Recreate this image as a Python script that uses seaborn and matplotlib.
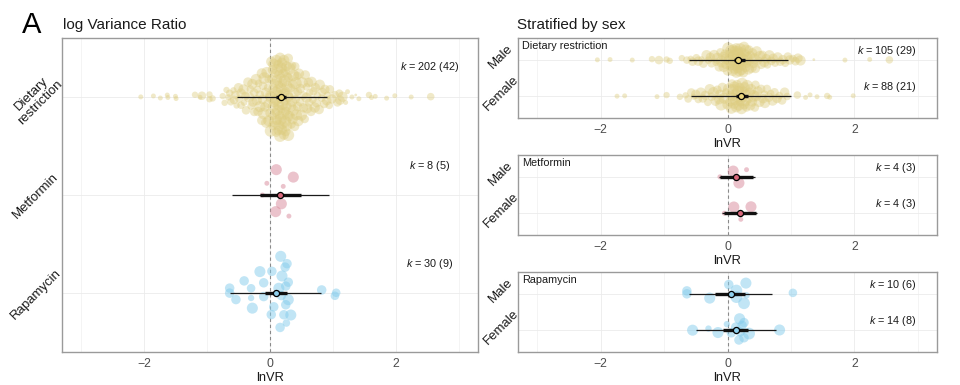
import numpy as np
import pandas as pd
import matplotlib
matplotlib.use("Agg")
import matplotlib.pyplot as plt
import matplotlib.transforms as mtransforms
import seaborn as sns

# ------------------------------------------------------------------ data
treatments = ["Dietary\nrestriction", "Metformin", "Rapamycin"]
panel_names = ["Dietary restriction", "Metformin", "Rapamycin"]
sexes = ["Male", "Female"]

dr_male_lnvr = [
    -2.05, -1.85, -1.50, -1.19, -1.08, -0.96, -0.91, -0.72, 1.36, 1.85, 2.24, 2.55,
    -0.64, -0.58, -0.55, -0.49, -0.46, -0.41, -0.38, -0.33, -0.30, -0.27,
    -0.25, -0.21, -0.18, -0.16, -0.13, -0.11, -0.09, -0.07, -0.06, -0.03,
    -0.02, 0.00, 0.01, 0.02, 0.04, 0.05, 0.05, 0.07, 0.08, 0.09,
    0.10, 0.10, 0.11, 0.12, 0.13, 0.14, 0.14, 0.15, 0.16, 0.17,
    0.18, 0.18, 0.19, 0.20, 0.21, 0.22, 0.22, 0.23, 0.24, 0.25,
    0.26, 0.27, 0.28, 0.29, 0.30, 0.31, 0.33, 0.34, 0.36, 0.37,
    0.39, 0.41, 0.42, 0.44, 0.46, 0.48, 0.51, 0.53, 0.55, 0.58,
    0.61, 0.63, 0.66, 0.69, 0.72, 0.75, 0.79, 0.83, 0.87, 0.91,
    0.95, 0.98, 1.03, 1.07, 1.11, 1.15, -0.04, 0.03, 0.12, 0.16,
    0.20, 0.28, 0.35]
dr_male_prec = [
    2, 2, 2, 3, 5, 3, 3, 3, 1, 2, 2, 4,
    4, 3, 5, 4, 6, 3, 5, 7, 4, 6, 5, 7, 4, 8, 6, 5, 9, 6, 7, 5,
    8, 6, 9, 7, 5, 8, 6, 7, 9, 5, 6, 8, 7, 9, 6, 8, 5, 7, 9, 6,
    8, 5, 7, 9, 6, 8, 7, 5, 9, 6, 7, 8, 5, 9, 6, 7, 8, 5, 6, 9,
    7, 5, 8, 6, 7, 5, 8, 6, 5, 7, 6, 4, 7, 5, 6, 4, 7, 5, 6, 4,
    5, 6, 4, 5, 6, 7, 5, 6, 8, 7, 6, 8, 5]

dr_female_lnvr = [
    -1.74, -1.62, -1.11, -0.96, -0.75, 1.10, 1.23, 1.30, 1.41, 1.57, 1.61, 1.98,
    -0.66, -0.62, -0.57, -0.53, -0.50, -0.46, -0.42, -0.39, -0.35, -0.31,
    -0.28, -0.25, -0.22, -0.19, -0.16, -0.13, -0.10, -0.08, -0.05, -0.02,
    0.00, 0.02, 0.04, 0.06, 0.08, 0.09, 0.11, 0.13, 0.14, 0.16,
    0.17, 0.19, 0.20, 0.22, 0.23, 0.25, 0.26, 0.28, 0.29, 0.31,
    0.33, 0.35, 0.37, 0.39, 0.41, 0.43, 0.45, 0.48, 0.50, 0.53,
    0.56, 0.59, 0.62, 0.65, 0.68, 0.71, 0.74, 0.78, 0.82, 0.86,
    0.90, 0.94, 0.10, 0.15, 0.21, 0.27, 0.18, 0.24, 0.12, 0.30,
    0.05, 0.36, 0.44, -0.12, 0.58, 0.07]
dr_female_prec = [
    2, 2, 2, 3, 3, 4, 2, 2, 2, 3, 2, 2,
    3, 4, 5, 3, 6, 4, 7, 5, 6, 4, 7, 5, 8, 6, 5, 7, 9, 6, 8, 5,
    7, 9, 6, 8, 5, 9, 7, 6, 8, 5, 9, 7, 6, 8, 9, 5, 7, 8, 6, 9,
    5, 7, 8, 6, 9, 5, 7, 6, 8, 5, 6, 7, 5, 6, 4, 7, 5, 6, 4, 5,
    6, 4, 8, 6, 9, 7, 8, 6, 7, 5, 6, 7, 5, 6, 4, 5]

dr_other_lnvr = [-1.63, -1.49, -0.69, 1.20, 1.67, 0.15, 0.25, 0.40, -0.20]
dr_other_prec = [2, 2, 3, 2, 2, 7, 6, 5, 4]

met_male_lnvr = [0.18, 0.09, 0.30, -0.12]
met_male_prec = [8, 8, 2, 2]
met_female_lnvr = [0.21, 0.10, 0.37, -0.05]
met_female_prec = [2, 8, 8, 2]

rap_all_lnvr = [0.26, 0.14, 0.22, 0.33, 0.25, 0.02, 0.06, 0.29, -0.28, -0.54,
                -0.30, -0.64, -0.64, -0.10, -0.30, -0.41, -0.10, -0.16, 0.03, 0.18,
                0.16, 0.25, 0.29, 0.19, 0.17, 0.24, 0.27, 0.82, 1.03, 1.05]
rap_all_prec = [4, 8, 6, 8, 6, 6, 6, 8, 8, 6,
                3, 6, 6, 6, 5, 6, 6, 8, 6, 6,
                6, 6, 6, 8, 8, 6, 6, 6, 5, 5]
rap_male_lnvr = [0.26, 0.14, 0.14, 0.30, -0.28, -0.64, -0.64, 0.02, 0.29, 1.03]
rap_male_prec = [9, 9, 9, 3, 8, 6, 6, 6, 8, 5]
rap_female_lnvr = [-0.55, -0.30, -0.15, 0.06, 0.18, 0.26, 0.34, 0.20, 0.26, 0.19,
                   0.23, 0.82, 0.13, -0.01]
rap_female_prec = [8, 3, 8, 6, 6, 6, 9, 6, 6, 8, 6, 8, 6, 3]

# overall model summaries (order: DR, Metformin, Rapamycin)
all_est = [0.17, 0.16, 0.10]
all_ci_lo = [0.10, -0.16, -0.08]
all_ci_hi = [0.25, 0.49, 0.27]
all_pi_lo = [-0.52, -0.60, -0.63]
all_pi_hi = [0.90, 0.93, 0.81]
all_k = [202, 8, 30]
all_studies = [42, 5, 9]

# sex-stratified summaries (order: DR, Metformin, Rapamycin)
male_est = [0.17, 0.14, 0.05]
male_ci_lo = [0.10, -0.12, -0.19]
male_ci_hi = [0.27, 0.40, 0.28]
male_pi_lo = [-0.61, -0.13, -0.60]
male_pi_hi = [0.96, 0.43, 0.70]
female_est = [0.22, 0.19, 0.13]
female_ci_lo = [0.13, -0.06, -0.07]
female_ci_hi = [0.33, 0.45, 0.33]
female_pi_lo = [-0.57, -0.08, -0.50]
female_pi_hi = [1.00, 0.46, 0.77]
male_k = [105, 4, 10]
male_studies = [29, 3, 6]
female_k = [88, 4, 14]
female_studies = [21, 3, 8]

x_ticks = [-2, 0, 2]
x_tick_labels = ["\u22122", "0", "2"]

# ------------------------------------------------------------------ style
point_cols = ["#DDCC7E", "#D8899A", "#84CCEC"]
point_alpha = [0.42, 0.5, 0.5]
est_cols = ["#EBD67C", "#D9677B", "#8ED0EE"]

sns.set_theme(style="white")
plt.rcParams["font.family"] = ["Liberation Sans", "DejaVu Sans"]
plt.rcParams["mathtext.fontset"] = "custom"
plt.rcParams["mathtext.it"] = "Liberation Sans:italic"
plt.rcParams["mathtext.rm"] = "Liberation Sans"


def vandercorput(n, base=2):
    out = []
    for i in range(1, n + 1):
        v, denom, k = 0.0, 1.0, i
        while k:
            denom *= base
            k, r = divmod(k, base)
            v += r / denom
        out.append(v)
    return np.array(out)


def quasi_offsets(vals, width):
    vals = np.asarray(vals, float)
    n = len(vals)
    sd = np.std(vals)
    iqr = np.subtract(*np.percentile(vals, [75, 25])) / 1.34
    bw = 0.9 * min(sd, iqr if iqr > 0 else sd) * n ** (-0.2) * 1.5
    dens = np.exp(-0.5 * ((vals[:, None] - vals[None, :]) / bw) ** 2).sum(1)
    dens = dens / dens.max()
    ranks = np.argsort(np.argsort(vals, kind="stable"), kind="stable")
    vdc = vandercorput(n)
    return (vdc[ranks] - 0.5) * 2 * width * dens


def draw_points(ax, vals, prec, ycat, color, alpha, width):
    off = quasi_offsets(vals, width)
    df = pd.DataFrame({"lnVR": vals, "ypos": ycat + off, "prec": prec})
    sns.scatterplot(data=df, x="lnVR", y="ypos", size="prec", sizes=(4, 72),
                    size_norm=(1, 9), color=color, alpha=alpha, linewidth=0,
                    legend=False, ax=ax, zorder=2)


def draw_summary(ax, ycat, est, clo, chi, plo, phi, fill):
    ax.hlines(ycat, plo, phi, color="#1a1a1a", lw=0.9, zorder=4)
    ax.hlines(ycat, clo, chi, color="#111111", lw=2.4, zorder=5)
    ax.plot([est], [ycat], "o", ms=4.4, mfc=fill, mec="black", mew=0.9, zorder=6)


def style_axis(ax, ncat):
    ax.set_xlim(-3.3, 3.3)
    ax.set_ylim(ncat - 1 + 0.6, -0.6)
    ax.set_xticks(x_ticks)
    ax.set_xticklabels(x_tick_labels)
    ax.set_xticks([-3, -1, 1, 3], minor=True)
    ax.set_yticks(range(ncat))
    ax.set_yticklabels([])
    ax.set_axisbelow(True)
    ax.grid(which="major", color="#EBEBEB", lw=0.6)
    ax.grid(which="minor", axis="x", color="#F0F0F0", lw=0.5)
    ax.axvline(0, color="#8a8a8a", lw=0.8, ls=(0, (3, 2.5)), zorder=1.5)
    ax.tick_params(axis="both", which="major", length=2.5, width=0.6,
                   color="#555555", labelsize=8.8, labelcolor="#4D4D4D", pad=1.5)
    ax.tick_params(which="minor", length=0)
    for s in ax.spines.values():
        s.set_color("#9a9a9a")
        s.set_linewidth(1.0)


def finish_labels(ax):
    ax.set_xlabel("lnVR", fontsize=9.3, labelpad=1.5, color="#1a1a1a")
    ax.set_ylabel("")


fig = plt.figure(figsize=(9.6, 3.85), dpi=100)
fig.patch.set_facecolor("white")

# ------------------------------------------------------------------ left panel
axL = fig.add_axes([62 / 960, 1 - 352 / 385, 416 / 960, 314 / 385])
style_axis(axL, 3)

all_vals = [dr_male_lnvr + dr_female_lnvr + dr_other_lnvr,
            met_male_lnvr + met_female_lnvr,
            rap_all_lnvr]
all_prec = [dr_male_prec + dr_female_prec + dr_other_prec,
            met_male_prec + met_female_prec,
            rap_all_prec]
widths_left = [0.42, 0.36, 0.40]
for i in range(3):
    draw_points(axL, all_vals[i], all_prec[i], i, point_cols[i], point_alpha[i],
                widths_left[i])
    draw_summary(axL, i, all_est[i], all_ci_lo[i], all_ci_hi[i],
                 all_pi_lo[i], all_pi_hi[i], est_cols[i])
    axL.text(2.53, i - 0.30, f"$k$ = {all_k[i]} ({all_studies[i]})",
             ha="center", va="center", fontsize=7.8, color="#1a1a1a")
    tr = mtransforms.offset_copy(axL.get_yaxis_transform(), fig=fig,
                                 x=-26, y=-1, units="dots")
    axL.text(0, i, treatments[i], transform=tr, rotation=45, ha="center",
             va="center", rotation_mode="anchor", fontsize=9.5,
             multialignment="center", linespacing=1.0, color="#1a1a1a")
axL.set_xlim(-3.3, 3.3)
axL.set_ylim(2.6, -0.6)
finish_labels(axL)

# ------------------------------------------------------------------ right panels
sex_vals = [[dr_male_lnvr, dr_female_lnvr],
            [met_male_lnvr, met_female_lnvr],
            [rap_male_lnvr, rap_female_lnvr]]
sex_prec = [[dr_male_prec, dr_female_prec],
            [met_male_prec, met_female_prec],
            [rap_male_prec, rap_female_prec]]
widths_right = [0.38, 0.34, 0.36]
tops = [38, 155, 272]
for p in range(3):
    top = tops[p]
    ax = fig.add_axes([518 / 960, 1 - (top + 80) / 385, 419 / 960, 80 / 385])
    style_axis(ax, 2)
    est = [male_est[p], female_est[p]]
    clo = [male_ci_lo[p], female_ci_lo[p]]
    chi = [male_ci_hi[p], female_ci_hi[p]]
    plo = [male_pi_lo[p], female_pi_lo[p]]
    phi = [male_pi_hi[p], female_pi_hi[p]]
    ks = [male_k[p], female_k[p]]
    ss = [male_studies[p], female_studies[p]]
    for j in range(2):
        draw_points(ax, sex_vals[p][j], sex_prec[p][j], j, point_cols[p],
                    point_alpha[p], widths_right[p])
        draw_summary(ax, j, est[j], clo[j], chi[j], plo[j], phi[j], est_cols[p])
        ax.text(2.98, j - 0.255, f"$k$ = {ks[j]} ({ss[j]})", ha="right",
                va="center", fontsize=7.8, color="#1a1a1a")
        tr = mtransforms.offset_copy(ax.get_yaxis_transform(), fig=fig,
                                     x=-17, y=3, units="dots")
        ax.text(0, j, sexes[j], transform=tr, rotation=45, ha="center",
                va="center", rotation_mode="anchor", fontsize=9.5, color="#1a1a1a")
    ax.text(0.01, 0.965, panel_names[p], transform=ax.transAxes, ha="left",
            va="top", fontsize=7.8, color="#1a1a1a")
    ax.set_xlim(-3.3, 3.3)
    ax.set_ylim(1.6, -0.6)
    finish_labels(ax)

# ------------------------------------------------------------------ titles
fig.text(22 / 960, 1 - 33 / 385, "A", fontsize=21, va="baseline", ha="left", color="black")
fig.text(62.5 / 960, 1 - 29.3 / 385, "log Variance Ratio", fontsize=11,
         va="baseline", ha="left", color="#1a1a1a")
fig.text(517 / 960, 1 - 28.5 / 385, "Stratified by sex", fontsize=11,
         va="baseline", ha="left", color="#1a1a1a")

fig.savefig("out.png", dpi=100, facecolor="white")
